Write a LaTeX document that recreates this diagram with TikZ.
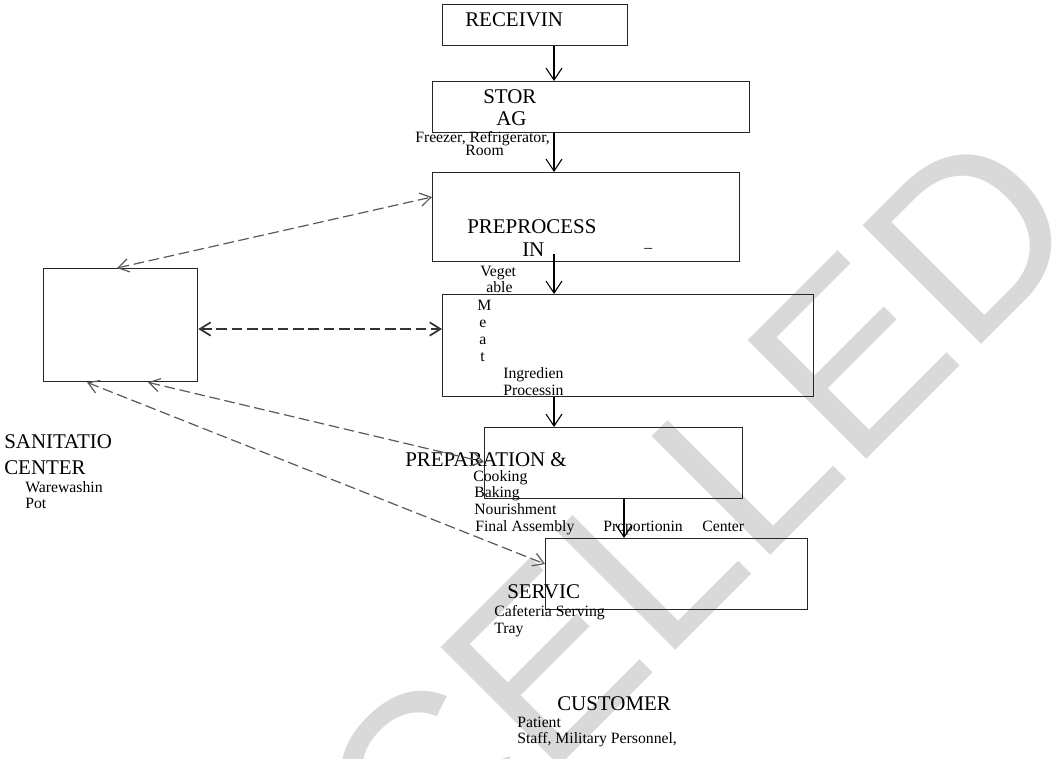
\documentclass[tikz,border=0pt]{standalone}
\usepackage{fontspec}
\setmainfont{Liberation Serif}
\newfontfamily\markfont{Liberation Sans}
\usetikzlibrary{arrows.meta,calc}
\newdimen\px
\px=0.75pt

\begin{document}
\begin{tikzpicture}[
        x=0.75pt, y=-0.75pt,
        >={Straight Barb[length=9pt,width=12pt]},
        box/.style={draw=black!85, line width=1pt, inner sep=0pt, anchor=north west},
        big/.style={inner sep=0pt, anchor=base west, font=\fontsize{15.7}{18}\selectfont},
        small/.style={inner sep=0pt, anchor=base west, font=\fontsize{11.8}{14}\selectfont},
        flow/.style={draw, line width=0.8pt, ->},
        wash/.style={draw=black!65, line width=0.9pt, dash pattern=on 8pt off 3.5pt,
            {Straight Barb[length=8pt,width=10pt]}-{Straight Barb[length=8pt,width=10pt]}}
    ]
        \useasboundingbox (0,0) rectangle (1052,758);

        % watermark
        \node[inner sep=0pt, anchor=base west, rotate=45, text=black!15,
            font=\markfont\fontsize{183}{183}\selectfont] (mark) at (57,1269) {CANCELLED};

        % boxes
        \node[box, minimum width=185\px, minimum height=41\px] (rec) at (442,4) {};
        \node[box, minimum width=317\px, minimum height=51\px] (sto) at (432,81) {};
        \node[box, minimum width=307\px, minimum height=89\px] (pre) at (432,172) {};
        \node[box, minimum width=371\px, minimum height=102\px] (ing) at (442,294) {};
        \node[box, minimum width=258\px, minimum height=71\px] (prep) at (484,427) {};
        \node[box, minimum width=262\px, minimum height=71\px] (ser) at (545,538) {};
        \node[box, minimum width=154\px, minimum height=113\px] (san) at (43,268) {};

        % labels
        \node[big] (recText) at (465,26) {RECEIVIN};
        \node[big] (stoText) at (483,103) {STOR};
        \node[big] (stoText2) at (496,125) {AG};
        \node[small] (stoSub) at (415,142) {Freezer, Refrigerator,};
        \node[small] (stoSub2) at (465,155) {Room};
        \node[big] (preText) at (467,233) {PREPROCESS};
        \node[big] (preText2) at (522,256) {IN};
        \node[small] (preDash) at (644,252) {–};
        \node[small] (vegText) at (480,276) {Veget};
        \node[small] (vegText2) at (486,292) {able};
        \node[small] (meatM) at (477,310) {M};
        \node[small] (meatE) at (479,327) {e};
        \node[small] (meatA) at (479,344) {a};
        \node[small] (meatT) at (480,361) {t};
        \node[small] (ingText) at (503,378) {Ingredien};
        \node[small] (ingText2) at (503,395) {Processin};
        \node[big] (prepText) at (405,466) {PREPARATION \&};
        \node[small] (cookText) at (473,481) {Cooking};
        \node[small] (bakeText) at (474,497) {Baking};
        \node[small] (nourText) at (474,514) {Nourishment};
        \node[small] (finalText) at (475,531) {Final Assembly};
        \node[small] (portText) at (603,531) {Proportionin};
        \node[small] (centerText) at (702,531) {Center};
        \node[big] (serText) at (507,598) {SERVIC};
        \node[small] (cafText) at (494,616) {Cafeteria Serving};
        \node[small] (trayText) at (494,633) {Tray};
        \node[big] (cusText) at (557,710) {CUSTOMER};
        \node[small] (patText) at (517,727) {Patient};
        \node[small] (staffText) at (517,743) {Staff, Military Personnel,};
        \node[big] (sanText) at (4,448) {SANITATIO};
        \node[big] (sanText2) at (4,474) {CENTER};
        \node[small] (washText) at (25,492) {Warewashin};
        \node[small] (potText) at (25,508) {Pot};

        % main flow
        \path[flow] (rec.south -| 554,0) -- (sto.north -| 554,0);
        \path[flow] (sto.south -| 554,0) -- (pre.north -| 554,0);
        \path[flow] ($(pre.south -| 554,0)+(0,-8)$) -- (ing.north -| 554,0);
        \path[flow] (ing.south -| 554,0) -- (prep.north -| 554,0);
        \path[flow] (prep.south -| 624,0) -- (ser.north -| 624,0);

        % sanitation links
        \path[wash] (san.north -| 117,0) -- (pre.west |- 0,197);
        \path[wash, draw=black!80, line width=1.3pt] (san.east |- 0,329) -- (ing.west |- 0,329);
        \path[wash] (san.south -| 148,0) -- (prep.west |- 0,462);
        \path[wash] (san.south -| 87,0) -- (ser.west |- 0,564);
    \end{tikzpicture}
\end{document}
